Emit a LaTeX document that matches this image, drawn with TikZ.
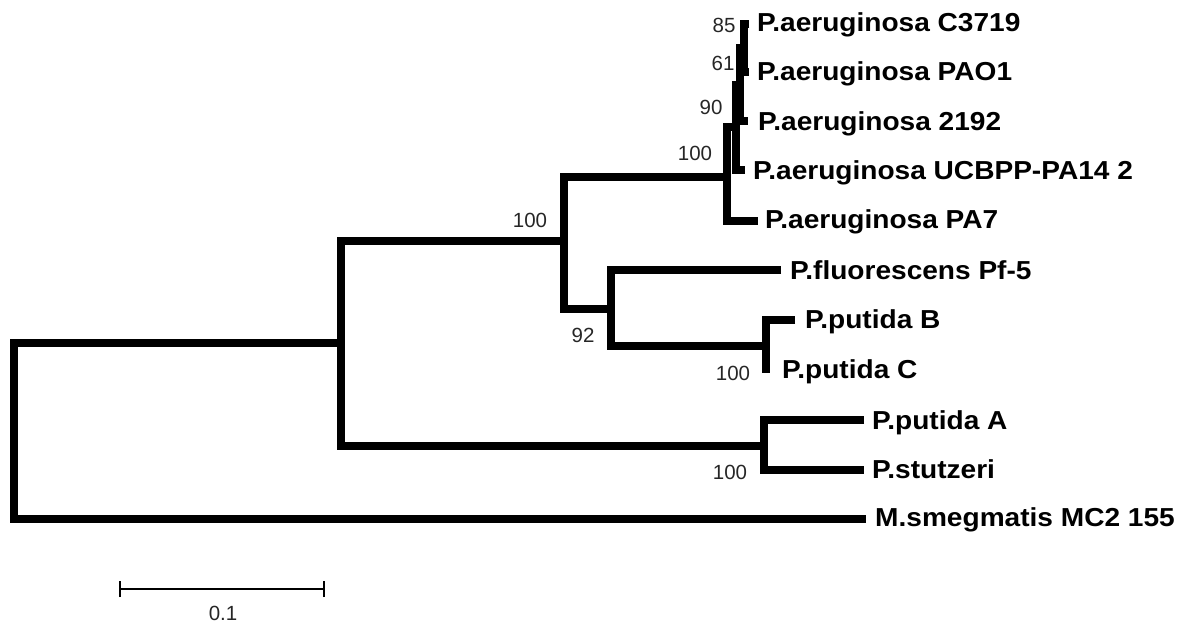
\documentclass[tikz,border=0pt]{standalone}
\usepackage{fontspec}
\setmainfont{Liberation Sans}
\newfontfamily\leaffont[FakeStretch=1.08]{Liberation Sans}
\tikzset{
  branch/.style={line width=7.5pt, line join=miter},
  leaf/.style={anchor=base west, inner sep=0pt, font=\leaffont\bfseries\fontsize{26}{30}\selectfont},
  boot/.style={inner sep=0pt, text=black!85, font=\fontsize{20.5}{24}\selectfont},
  scalebar/.style={line width=2pt}
}
\begin{document}
\begin{tikzpicture}[x=1pt,y=-1pt]
\useasboundingbox (0,0) rectangle (1180,626);
% internal nodes
\coordinate (R) at (14,431);
\coordinate (A) at (341,343);
\coordinate (B) at (564,241);
\coordinate (D) at (727,177);
\coordinate (E) at (736,127);
\coordinate (F) at (740,85);
\coordinate (G) at (744,48);
\coordinate (C) at (611,309);
\coordinate (BC) at (766,346);
\coordinate (PS) at (764,446);
% tips
\coordinate (tC3719) at (749,24);
\coordinate (tPAO1) at (749,72);
\coordinate (t2192) at (748,121);
\coordinate (tUCB) at (745,170);
\coordinate (tPA7) at (758,221);
\coordinate (tFl) at (781,270);
\coordinate (tPB) at (795,320);
\coordinate (tPC) at (766,373);
\coordinate (tPA) at (864,420);
\coordinate (tSt) at (864,470);
\coordinate (tM) at (866,519);
% branches
\draw[branch] (A) -| (R) |- (tM);
\draw[branch] (B) -| (A) |- (PS);
\draw[branch] (D) -| (B) |- (C);
\draw[branch] (E) -| (D) |- (tPA7);
\draw[branch] (F) -| (E) |- (tUCB);
\draw[branch] (G) -| (F) |- (t2192);
\draw[branch] (tC3719) -| (G) |- (tPAO1);
\draw[branch] (tFl) -| (C) |- (BC);
\draw[branch] (tPB) -| (BC) -- (tPC);
\draw[branch] (tPA) -| (PS) |- (tSt);
% leaf labels
\node[leaf] (lC3719) at (757,32) {P.aeruginosa C3719};
\node[leaf] (lPAO1) at (757,81) {P.aeruginosa PAO1};
\node[leaf] (l2192) at (758,130) {P.aeruginosa 2192};
\node[leaf] (lUCB) at (753,179) {P.aeruginosa UCBPP-PA14 2};
\node[leaf] (lPA7) at (765,228) {P.aeruginosa PA7};
\node[leaf] (lFl) at (790,279) {P.fluorescens Pf-5};
\node[leaf] (lPB) at (805,328) {P.putida B};
\node[leaf] (lPC) at (782,378) {P.putida C};
\node[leaf] (lPA) at (872,429) {P.putida A};
\node[leaf] (lSt) at (872,478) {P.stutzeri};
\node[leaf] (lM) at (875,526) {M.smegmatis MC2 155};
% bootstrap values
\node[boot] (b85) at (724,25) {85};
\node[boot] (b61) at (723,63) {61};
\node[boot] (b90) at (711,107) {90};
\node[boot] (b100a) at (695,153) {100};
\node[boot] (b100b) at (530,220) {100};
\node[boot] (b92) at (583,335) {92};
\node[boot] (b100c) at (733,373) {100};
\node[boot] (b100d) at (730,472) {100};
% scale bar
\coordinate (sb1) at (120,589);
\coordinate (sb2) at (324,589);
\draw[scalebar] (sb1) -- (sb2);
\draw[scalebar] ([yshift=-8pt]sb1) -- ([yshift=8pt]sb1);
\draw[scalebar] ([yshift=-8pt]sb2) -- ([yshift=8pt]sb2);
\node[boot] (sbl) at (223,613) {0.1};
\end{tikzpicture}
\end{document}
